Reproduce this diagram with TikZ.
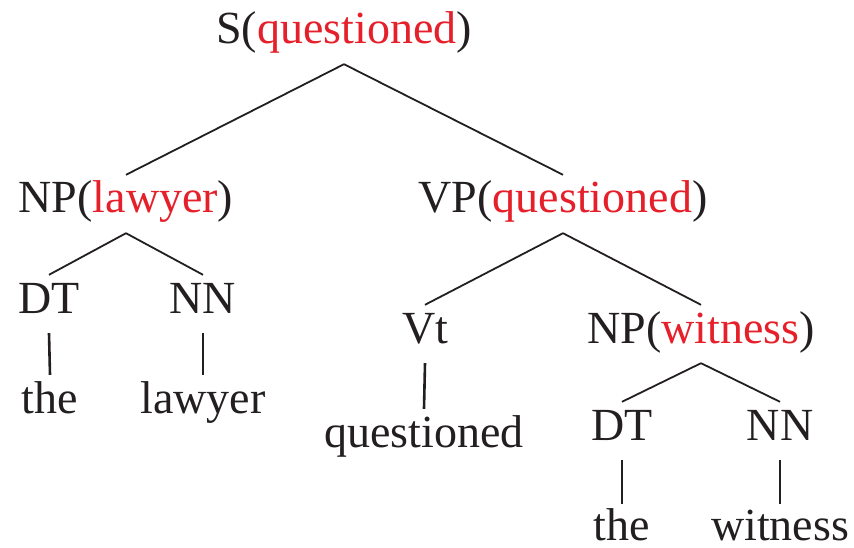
\documentclass[tikz,border=0pt]{standalone}
\usepackage{fontspec}
\setmainfont{Liberation Serif}
\definecolor{headred}{RGB}{230,32,42}
\definecolor{inkblack}{RGB}{35,31,32}
\newcommand{\hw}[1]{\textcolor{headred}{#1}}

\begin{document}
\begin{tikzpicture}[x=1pt, y=-1pt,
    cat/.style={anchor=base, inner sep=8pt, text height=30pt, text depth=12pt,
        font=\fontsize{46}{55}\selectfont, text=inkblack},
    leaf/.style={cat, text depth=0pt, inner sep=4pt},
    branch/.style={draw=inkblack, line width=1.8pt},
    stem/.style={draw=inkblack, line width=2.6pt}
]
    \useasboundingbox (0,0) rectangle (854,548);
    \node[cat] (s) at (344,44) {S(\hw{questioned})};
    \node[cat] (np1) at (126,213) {NP(\hw{lawyer})};
    \node[cat] (vp) at (563,213) {VP(\hw{questioned})};
    \node[cat] (dt1) at (49,313) {DT};
    \node[cat] (nn1) at (203,313) {NN};
    \node[leaf, text height=34pt] (w1) at (50,413) {the};
    \node[leaf, text height=34pt] (w2) at (203,413) {lawyer};
    \node[cat] (vt) at (425,343) {Vt};
    \node[cat] (np2) at (701,343) {NP(\hw{witness})};
    \node[leaf, text height=34pt] (w3) at (424,447) {questioned};
    \node[cat] (dt2) at (622,440) {DT};
    \node[cat] (nn2) at (780,440) {NN};
    \node[leaf, text height=32pt] (w4) at (622,540) {the};
    \node[leaf, text height=32pt] (w5) at (780,540) {witness};
    \draw[branch] (s.south) -- (np1.north);
    \draw[branch] (s.south) -- (vp.north);
    \draw[branch] (np1.south) -- (dt1.north);
    \draw[branch] (np1.south) -- (nn1.north);
    \draw[stem] (dt1.south) -- (w1.north);
    \draw[stem] (nn1.south) -- (w2.north);
    \draw[branch] (vp.south) -- (vt.north);
    \draw[branch] (vp.south) -- (np2.north);
    \draw[stem] (vt.south) -- (w3.north);
    \draw[branch] (np2.south) -- (dt2.north);
    \draw[branch] (np2.south) -- (nn2.north);
    \draw[stem] (dt2.south) -- (w4.north);
    \draw[stem] (nn2.south) -- (w5.north);
\end{tikzpicture}
\end{document}
